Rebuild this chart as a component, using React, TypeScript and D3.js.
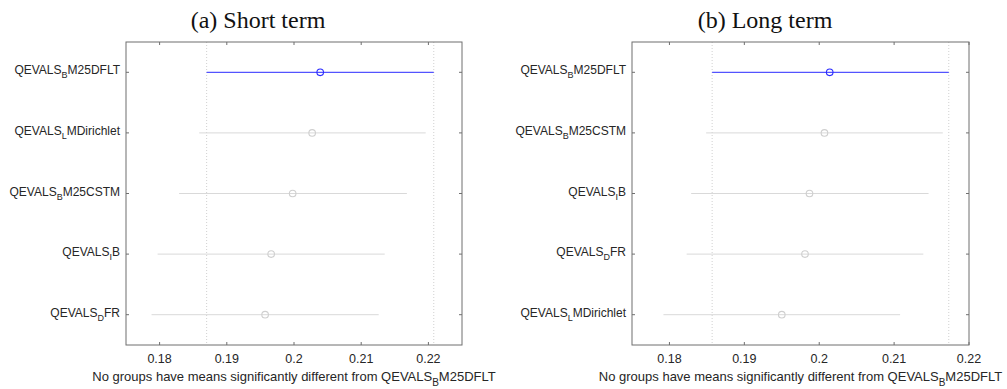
import React from "react";
import * as d3 from "d3";

// ---- Data ----
const shortLabels = ["QEVALS_BM25DFLT", "QEVALS_LMDirichlet", "QEVALS_BM25CSTM", "QEVALS_IB", "QEVALS_DFR"];
const shortMeans = [0.2039, 0.2027, 0.1998, 0.1966, 0.1957];
const shortLow = [0.1870, 0.1859, 0.1829, 0.1797, 0.1788];
const shortHigh = [0.2208, 0.2196, 0.2168, 0.2135, 0.2126];

const longLabels = ["QEVALS_BM25DFLT", "QEVALS_BM25CSTM", "QEVALS_IB", "QEVALS_DFR", "QEVALS_LMDirichlet"];
const longMeans = [0.2014, 0.2007, 0.1987, 0.1981, 0.1950];
const longLow = [0.1857, 0.1849, 0.1829, 0.1823, 0.1792];
const longHigh = [0.2173, 0.2165, 0.2146, 0.2139, 0.2108];

const shortTicks = [0.18, 0.19, 0.2, 0.21, 0.22];
const longTicks = [0.18, 0.19, 0.2, 0.21, 0.22];

const shortTitle = "(a) Short term";
const longTitle = "(b) Long term";
const xLabelPrefix = "No groups have means significantly different from QEVALS";
const xLabelSub = "B";
const xLabelRest = "M25DFLT";

const AXIS = "#6f6f6f";
const TEXT = "#262626";
const GRAY = "#d9d9d9";
const BLUE = "#2a2aff";

function SubLabel({ label, x, y, anchor }: { label: string; x: number; y: number; anchor: string }) {
  const i = label.indexOf("_");
  const pre = label.slice(0, i);
  const sub = label.slice(i + 1, i + 2);
  const rest = label.slice(i + 2);
  return (
    <text x={x} y={y} textAnchor={anchor} fontFamily="Liberation Sans, Arial, sans-serif" fontSize={12} fill={TEXT} dominantBaseline="middle">
      {pre}
      <tspan fontSize={9} dy={5}>{sub}</tspan>
      <tspan dy={-5}>{rest}</tspan>
    </text>
  );
}

function Panel({
  left, right, top, bottom, domain, ticks, labels, means, low, high, title, titleX,
}: {
  left: number; right: number; top: number; bottom: number; domain: [number, number]; ticks: number[];
  labels: string[]; means: number[]; low: number[]; high: number[]; title: string; titleX: number;
}) {
  const x = d3.scaleLinear().domain(domain).range([left, right]);
  const y = d3.scaleLinear().domain([0.5, labels.length + 0.5]).range([top, bottom]);
  const tl = 3;
  return (
    <g>
      <text x={titleX} y={28} textAnchor="middle" fontFamily="Liberation Serif, serif" fontSize={24} fill="#111">{title}</text>
      {/* dotted reference lines at first group's interval */}
      {[low[0], high[0]].map((v, i) => (
        <line key={"d" + i} x1={x(v)} x2={x(v)} y1={top} y2={bottom} stroke="#d0d0d0" strokeWidth={1} strokeDasharray="1,2" />
      ))}
      {labels.map((lab, i) => {
        const yy = y(i + 1);
        const c = i === 0 ? BLUE : GRAY;
        return (
          <g key={lab}>
            <line x1={x(low[i])} x2={x(high[i])} y1={yy} y2={yy} stroke={c} strokeWidth={1} />
            <circle cx={x(means[i])} cy={yy} r={3.3} fill="none" stroke={i === 0 ? BLUE : "#cfcfcf"} strokeWidth={1.1} />
            <SubLabel label={lab} x={left - 6} y={yy - 1} anchor="end" />
            <line x1={left} x2={left + tl} y1={yy} y2={yy} stroke={AXIS} />
            <line x1={right} x2={right - tl} y1={yy} y2={yy} stroke={AXIS} />
          </g>
        );
      })}
      <rect x={left} y={top} width={right - left} height={bottom - top} fill="none" stroke={AXIS} strokeWidth={1} />
      {ticks.map((t) => (
        <g key={t}>
          <line x1={x(t)} x2={x(t)} y1={bottom} y2={bottom - tl} stroke={AXIS} />
          <line x1={x(t)} x2={x(t)} y1={top} y2={top + tl} stroke={AXIS} />
          <text x={x(t)} y={363} textAnchor="middle" fontFamily="Liberation Sans, Arial, sans-serif" fontSize={12.5} fill={TEXT}>
            {d3.format("")(t)}
          </text>
        </g>
      ))}
      <text x={(left + right) / 2} y={380.5} textAnchor="middle" fontFamily="Liberation Sans, Arial, sans-serif" fontSize={13} fill={TEXT}>
        {xLabelPrefix}
        <tspan fontSize={10} dy={5}>{xLabelSub}</tspan>
        <tspan dy={-5}>{xLabelRest}</tspan>
      </text>
    </g>
  );
}

export default function App() {
  return (
    <svg width={1007} height={389} style={{ position: "absolute", left: 0, top: 0, background: "#fff" }}>
      <rect width={1007} height={389} fill="#fff" />
      <Panel left={126} right={462} top={42} bottom={345} domain={[0.175, 0.225]} ticks={shortTicks}
        labels={shortLabels} means={shortMeans} low={shortLow} high={shortHigh} title={shortTitle} titleX={258} />
      <Panel left={632} right={969} top={42} bottom={345} domain={[0.175, 0.22]} ticks={longTicks}
        labels={longLabels} means={longMeans} low={longLow} high={longHigh} title={longTitle} titleX={765} />
    </svg>
  );
}
